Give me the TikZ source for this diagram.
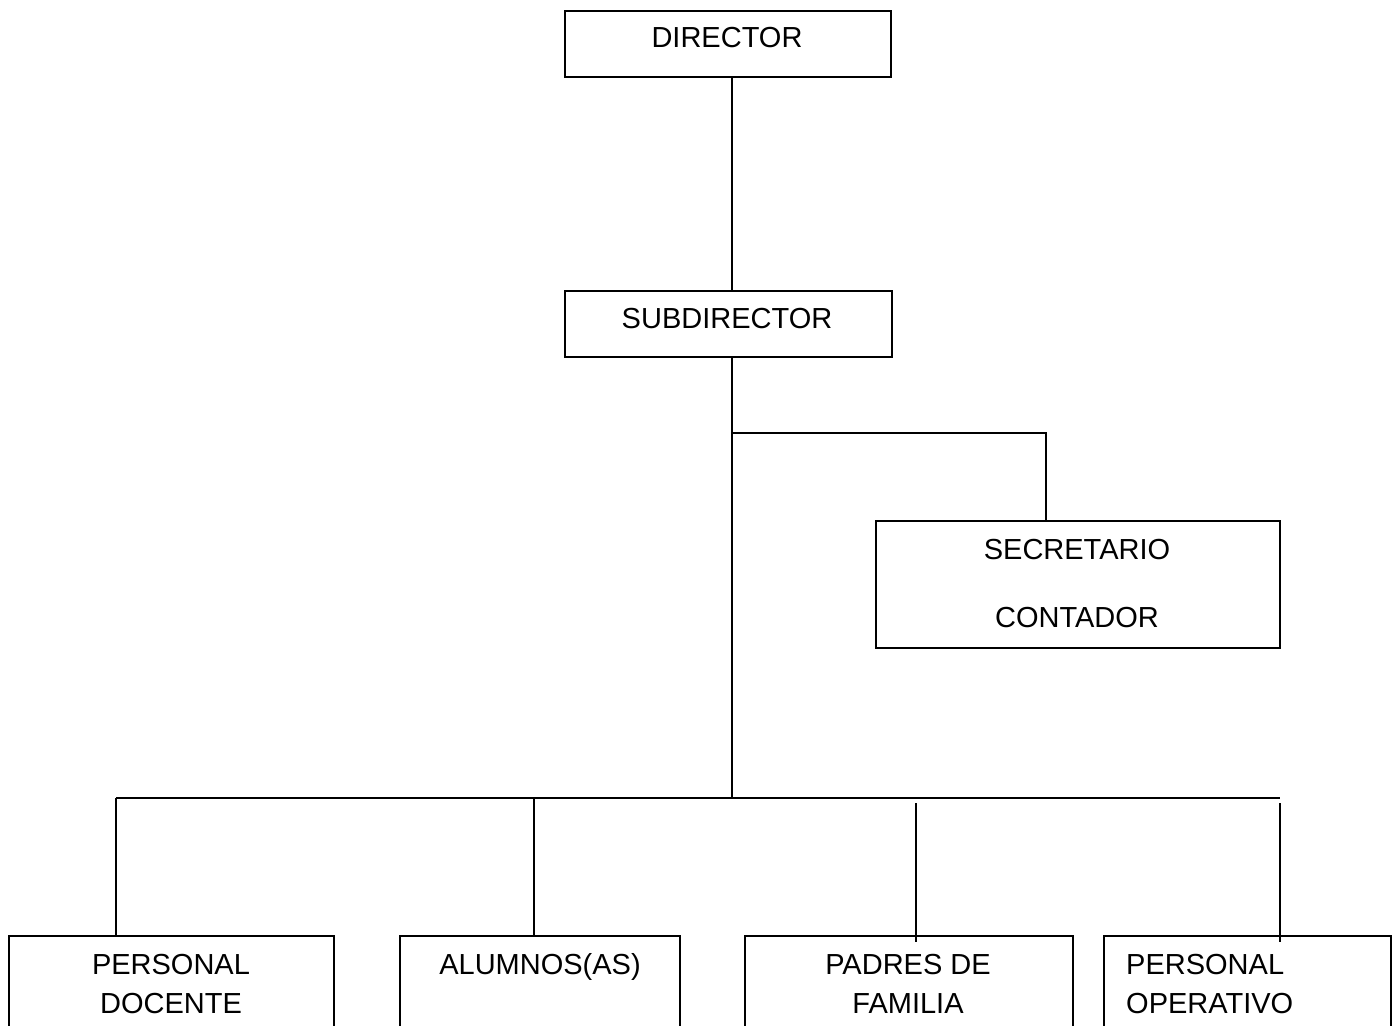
\documentclass[tikz,border=0pt]{standalone}
\usepackage{fontspec}
\setmainfont{Liberation Sans}
\begin{document}
\begin{tikzpicture}[x=1pt,y=-1pt,
  box/.style={draw=black,line width=1.6pt,rectangle,inner sep=0pt,anchor=north west,fill=none},
  lbl/.style={anchor=base,inner sep=0pt,font=\fontsize{29}{34}\selectfont},
  lblw/.style={anchor=base west,inner sep=0pt,font=\fontsize{29}{34}\selectfont},
  conn/.style={draw=black,line width=1.6pt}]
\useasboundingbox (0,0) rectangle (1396,1025);
\clip (0,0) rectangle (1396,1025);
\fill[white] (0,0) rectangle (1396,1025);
% boxes
\node[box,minimum width=326pt,minimum height=66pt] (dir) at (564,10) {};
\node[box,minimum width=327pt,minimum height=66pt] (sub) at (564,290) {};
\node[box,minimum width=404pt,minimum height=127pt] (sec) at (875,520) {};
\node[box,minimum width=325pt,minimum height=140pt] (doc) at (8,935) {};
\node[box,minimum width=280pt,minimum height=140pt] (alu) at (399,935) {};
\node[box,minimum width=328pt,minimum height=140pt] (pad) at (744,935) {};
\node[box,minimum width=287pt,minimum height=140pt] (ope) at (1103,935) {};
% labels
\node[lbl] (tdir) at (727,48) {DIRECTOR};
\node[lbl] (tsub) at (727,328) {SUBDIRECTOR};
\node[lbl] (tsec1) at (1077,559) {SECRETARIO};
\node[lbl] (tsec2) at (1077,627) {CONTADOR};
\node[lbl] (tdoc1) at (171,974) {PERSONAL};
\node[lbl] (tdoc2) at (171,1013) {DOCENTE};
\node[lbl] (talu) at (540,974) {ALUMNOS(AS)};
\node[lbl] (tpad1) at (908,974) {PADRES DE};
\node[lbl] (tpad2) at (908,1013) {FAMILIA};
\node[lblw] (tope1) at (1126,974) {PERSONAL};
\node[lblw] (tope2) at (1126,1013) {OPERATIVO};
% connectors
\coordinate (j1) at (732,433);
\coordinate (j2) at (732,798);
\coordinate (h1) at (116,798);
\coordinate (h2) at (1280,798);
\draw[conn] (dir.south -| 732,0) -- (sub.north -| 732,0);
\draw[conn] (sub.south -| 732,0) -- (j2);
\draw[conn] (j1) -- (1046,433) -- (sec.north -| 1046,0);
\draw[conn] (h1) -- (h2);
\draw[conn] (h1) -- (doc.north -| h1);
\draw[conn] (534,798) -- (alu.north -| 534,0);
\draw[conn] (916,803) -- ([yshift=-7pt]pad.north -| 916,0);
\draw[conn] (1280,803) -- ([yshift=-7pt]ope.north -| 1280,0);
\end{tikzpicture}
\end{document}
